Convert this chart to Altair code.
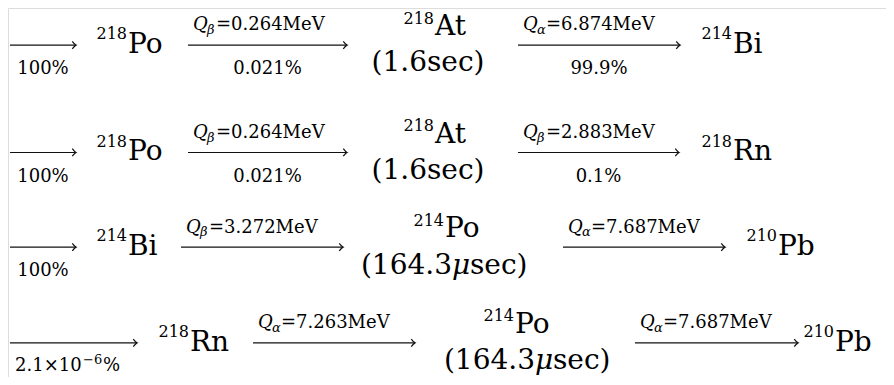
import altair as alt
import pandas as pd

# ---------------- content (decay chains) ----------------
masses_start = ["218", "218", "214", "218"]
symbols_start = ["Po", "Po", "Bi", "Rn"]
masses_mid = ["218", "218", "214", "214"]
symbols_mid = ["At", "At", "Po", "Po"]
halflife_value = ["1.6", "1.6", "164.3", "164.3"]
halflife_micro = [False, False, True, True]
masses_end = ["214", "218", "210", "210"]
symbols_end = ["Bi", "Rn", "Pb", "Pb"]
branch_in = ["100%", "100%", "100%", None]
branch_in_sci = ("2.1×10", "−6", "%")  # 2.1×10^-6 %, used where branch_in is None
q1_particle = ["β", "β", "β", "α"]
q1_value = ["0.264", "0.264", "3.272", "7.263"]
branch_1 = ["0.021%", "0.021%", "", ""]
q2_particle = ["α", "β", "α", "α"]
q2_value = ["6.874", "2.883", "7.687", "7.687"]
branch_2 = ["99.9%", "0.1%", "", ""]

# ---------------- layout (pixel positions of the typeset rows) ----------------
axis_y = [40, 150, 247, 345]
sym_start_x = [128, 128, 128, 190]
arrow0 = [(10, 76), (10, 76), (10, 76), (10, 137)]
arrow1 = [(188, 347), (188, 347), (181, 343), (253, 415)]
mid_center = [428, 428, 445, 528]
mid_sym_x = [435, 435, 445, 515]
arrow2 = [(518, 680), (518, 679), (563, 725), (635, 798)]
sym_end_x = [733, 733, 778, 835]

MAIN, SUP, LAB, SUB = 28, 16, 18, 13
FONT = "DejaVu Serif"

texts = []
rules = []
heads = []


def add(text, x, y, size, align="left", style="normal"):
    texts.append(dict(text=text, x=x, y=y, size=size, key=f"{align}-{style}"))


def nuclide(mass, sym, bx, base, lift=14):
    add(mass, bx - 1, base - lift, SUP, "right")
    add(sym, bx, base, MAIN, "left")


def arrow(x0, x1, ay):
    rules.append(dict(x=x0, x2=x1 - 0.5, y=ay))
    heads.append(dict(x=x1, y=ay))


def qlabel(x0, ay, part, val):
    add("Q", x0 + 5, ay - 15, LAB, "left", "italic")
    add(part, x0 + 19, ay - 11, SUB, "left", "italic")
    add("=" + val + "MeV", x0 + 28, ay - 15, LAB)


for r in range(4):
    ay = axis_y[r]
    base = ay + 8
    # incoming arrow
    a0, b0 = arrow0[r]
    arrow(a0, b0, ay)
    if branch_in[r] is not None:
        add(branch_in[r], (a0 + b0) / 2, ay + 30, LAB, "center")
    else:
        add(branch_in_sci[0], a0 + 5, ay + 29, LAB)
        add(branch_in_sci[1], a0 + 73, ay + 22, SUB)
        add(branch_in_sci[2], a0 + 93, ay + 29, LAB)
    nuclide(masses_start[r], symbols_start[r], sym_start_x[r], base)
    # first decay
    a1, b1 = arrow1[r]
    arrow(a1, b1, ay)
    qlabel(a1, ay, q1_particle[r], q1_value[r])
    if branch_1[r]:
        add(branch_1[r], (a1 + b1) / 2, ay + 30, LAB, "center")
    # intermediate nucleus with half-life
    nuclide(masses_mid[r], symbols_mid[r], mid_sym_x[r], ay - 10, lift=12)
    c = mid_center[r]
    if halflife_micro[r]:
        add("(" + halflife_value[r], c + 7, ay + 27, MAIN, "right")
        add("μ", c + 16, ay + 27, MAIN, "center", "italic")
        add("sec)", c + 25, ay + 27, MAIN, "left")
    else:
        add("(" + halflife_value[r] + "sec)", c, ay + 27, MAIN, "center")
    # second decay
    a2, b2 = arrow2[r]
    arrow(a2, b2, ay)
    qlabel(a2, ay, q2_particle[r], q2_value[r])
    if branch_2[r]:
        add(branch_2[r], (a2 + b2) / 2, ay + 30, LAB, "center")
    nuclide(masses_end[r], symbols_end[r], sym_end_x[r], base)

tdf = pd.DataFrame(texts)
rdf = pd.DataFrame(rules)
hdf = pd.DataFrame(heads)

xs = alt.Scale(domain=[8, 886], nice=False, zero=False)
ys = alt.Scale(domain=[2, 380], nice=False, zero=False, reverse=True)
X = alt.X("x:Q", scale=xs, axis=None)
Y = alt.Y("y:Q", scale=ys, axis=None)

layers = []
for key in sorted(tdf["key"].unique()):
    align, style = key.split("-")
    sub = tdf[tdf["key"] == key]
    layers.append(
        alt.Chart(sub)
        .mark_text(align=align, baseline="alphabetic", font=FONT, fontStyle=style, color="#000000")
        .encode(x=X, y=Y, text="text:N", size=alt.Size("size:Q", scale=None, legend=None))
    )

shafts = alt.Chart(rdf).mark_rule(color="#111111", strokeWidth=1.2).encode(
    x=X, x2="x2:Q", y=Y
)
head_shape = "M -1 -1 Q -0.35 -0.15 0 0 Q -0.35 0.15 -1 1"
arrowheads = alt.Chart(hdf).mark_point(
    shape=head_shape, filled=False, color="#111111", strokeWidth=1.2, size=56, opacity=1
).encode(x=X, y=Y)

chart = (
    alt.layer(shafts, arrowheads, *layers)
    .properties(width=878, height=369, padding=0, autosize=alt.AutoSizeParams(type="none"))
    .configure_view(stroke=None)
    .configure(background="white")
)

chart.save("out.html", embed_options={"renderer": "svg", "actions": False})
